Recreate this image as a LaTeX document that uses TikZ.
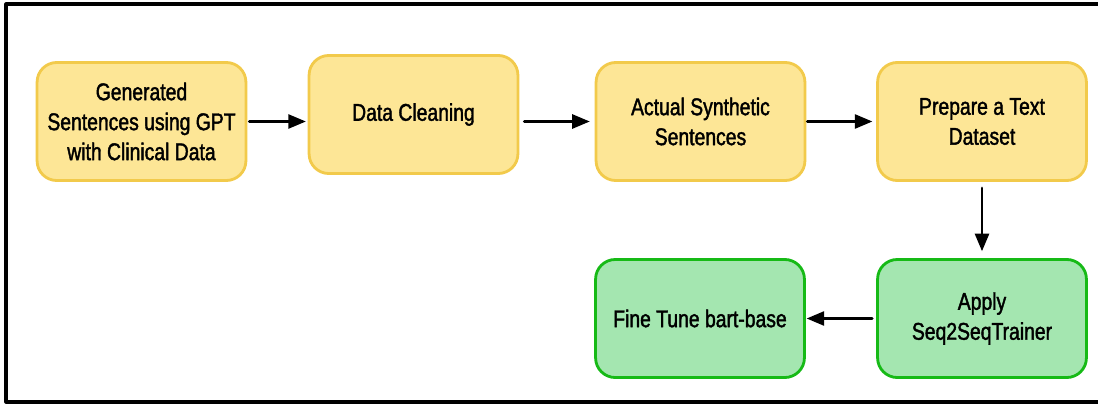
\documentclass[tikz,border=0pt]{standalone}
\usepackage{fontspec}
\setmainfont{Liberation Sans}[FakeStretch=0.8,FakeBold=1.6]
\usetikzlibrary{arrows}
\usetikzlibrary{positioning}
\definecolor{ylwfill}{RGB}{253,230,150}
\definecolor{ylwline}{RGB}{242,202,75}
\definecolor{grnfill}{RGB}{164,230,176}
\definecolor{grnline}{RGB}{22,186,22}
\tikzset{
  stage/.style={rounded corners=14pt,line width=2pt,minimum width=5.22cm,minimum height=2.95cm,align=center,font=\fontsize{17.2}{21.3}\selectfont},
  prepbox/.style={stage,draw=ylwline,fill=ylwfill},
  trainbox/.style={stage,draw=grnline,fill=grnfill},
  flow/.style={->,line width=1.9pt}
}
\begin{document}
\begin{tikzpicture}[line cap=round,line join=round,>=triangle 45,x=0.025cm,y=-0.025cm]
\useasboundingbox (0,0) rectangle (1098,407);
\clip (0,0) rectangle (1098,407);
\draw[line width=2.2pt,line cap=butt] (1110,4) -- (6,4) -- (6,402) -- (1110,402);
\node[prepbox] (gen) at (141.5,121.5) {Generated\\Sentences using GPT\\with Clinical Data};
\node[prepbox] (clean) at (413.5,114.5) {Data Cleaning};
\node[prepbox] (actual) at (700.5,121.5) {Actual Synthetic\\Sentences};
\node[prepbox] (prep) at (982,121.5) {Prepare a Text\\Dataset};
\node[trainbox] (tune) at (700,318.5) {Fine Tune bart-base};
\node[trainbox] (apply) at (982,318.5) {Apply\\Seq2SeqTrainer};
\draw[flow,shorten <=1.4pt,shorten >=1.4pt] (gen.east) -- (gen.east -| clean.west);
\draw[flow,shorten <=3.5pt,shorten >=3.6pt] (clean.east |- actual.west) -- (actual.west);
\draw[flow,shorten <=0.7pt,shorten >=2.8pt] (actual.east) -- (prep.west);
\draw[flow,shorten <=4.3pt,shorten >=5pt] (prep.south) -- (apply.north);
\draw[flow,shorten <=2.8pt,shorten >=0.7pt] (apply.west) -- (tune.east);
\end{tikzpicture}
\end{document}
